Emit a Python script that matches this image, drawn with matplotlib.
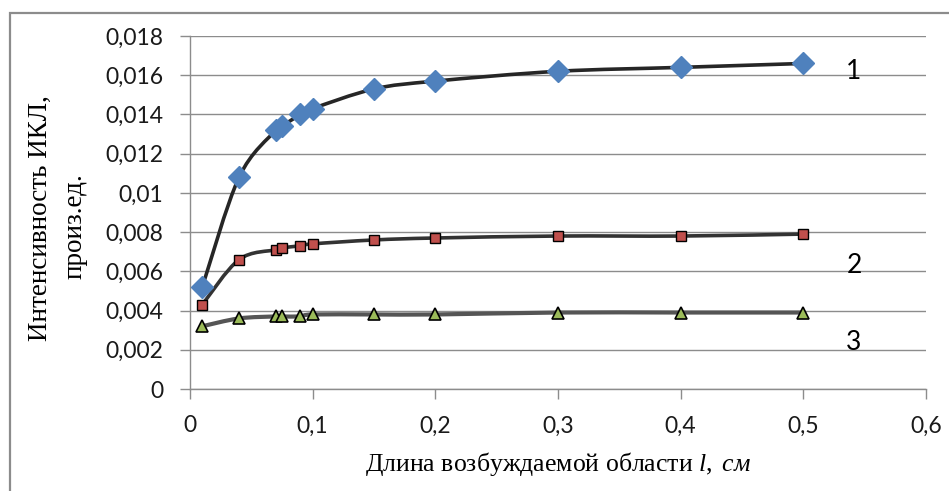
import matplotlib
matplotlib.use("Agg")
import matplotlib.pyplot as plt
from matplotlib.path import Path
from matplotlib.patches import PathPatch, Rectangle
from matplotlib.ticker import FuncFormatter

plt.rcParams["mathtext.fontset"] = "custom"
plt.rcParams["mathtext.rm"] = "Liberation Serif"
plt.rcParams["mathtext.it"] = "Liberation Serif:italic"

x = [0.01, 0.04, 0.07, 0.075, 0.09, 0.1, 0.15, 0.2, 0.3, 0.4, 0.5]
s1 = [0.0052, 0.0108, 0.0132, 0.0134, 0.0140, 0.0143, 0.0153, 0.0157, 0.0162, 0.0164, 0.0166]
s2 = [0.0043, 0.0066, 0.0071, 0.0072, 0.0073, 0.0074, 0.0076, 0.0077, 0.0078, 0.0078, 0.0079]
s3 = [0.0032, 0.0036, 0.0037, 0.0037, 0.0037, 0.0038, 0.0038, 0.0038, 0.0039, 0.0039, 0.0039]
labels = ["1", "2", "3"]
label_xy = [(0.535, 0.0162), (0.535, 0.0063), (0.535, 0.00235)]

fig = plt.figure(figsize=(9.49, 4.91), dpi=100)
fig.patches.append(Rectangle((10/949, -0.1), 1.2, 1 - 13/491 + 0.1, transform=fig.transFigure,
                             fill=False, edgecolor="#8c8c8c", linewidth=1.6, zorder=0))
ax = fig.add_axes([190/949, 102/491, 736/949, 353/491])


def smooth(ax, xs, ys, color, lw):
    pts = list(zip(xs, ys))
    n = len(pts)
    verts = [pts[0]]
    codes = [Path.MOVETO]
    for i in range(n - 1):
        p0 = pts[i - 1] if i > 0 else pts[i]
        p1 = pts[i]
        p2 = pts[i + 1]
        p3 = pts[i + 2] if i + 2 < n else pts[i + 1]
        c1 = (p1[0] + (p2[0] - p0[0]) / 6, p1[1] + (p2[1] - p0[1]) / 6)
        c2 = (p2[0] - (p3[0] - p1[0]) / 6, p2[1] - (p3[1] - p1[1]) / 6)
        verts += [c1, c2, p2]
        codes += [Path.CURVE4] * 3
    ax.add_patch(PathPatch(Path(verts, codes), fill=False, edgecolor=color, linewidth=lw,
                           capstyle="round", joinstyle="round", zorder=3))


smooth(ax, x, s1, "#262626", 2.6)
smooth(ax, x, s2, "#333333", 2.6)
smooth(ax, x, s3, "#555555", 3.0)
ax.plot(x, s1, linestyle="none", marker="D", markersize=11, color="#4F81BD",
        markeredgecolor="#4F81BD", zorder=4)
ax.plot(x, s2, linestyle="none", marker="s", markersize=6.5, color="#C0504D",
        markeredgecolor="black", markeredgewidth=1.0, zorder=4)
ax.plot(x, s3, linestyle="none", marker="^", markersize=9, color="#9BBB59",
        markeredgecolor="black", markeredgewidth=1.2, zorder=4)

for t, (tx, ty) in zip(labels, label_xy):
    ax.text(tx, ty, t, fontsize=19, family="Lato", va="center", ha="left", color="black")

ax.set_xlim(0, 0.6)
ax.set_ylim(0, 0.018)
ax.set_xticks([0, 0.1, 0.2, 0.3, 0.4, 0.5, 0.6])
ax.set_yticks([i * 0.002 for i in range(10)])
fmt = FuncFormatter(lambda v, p: ("%g" % round(v, 4)).replace(".", ","))
ax.xaxis.set_major_formatter(fmt)
ax.yaxis.set_major_formatter(fmt)
ax.grid(axis="y", color="#8c8c8c", linewidth=1.0)
ax.set_axisbelow(True)
for sp in ["top", "right"]:
    ax.spines[sp].set_visible(False)
for sp in ["left", "bottom"]:
    ax.spines[sp].set_color("#8c8c8c")
    ax.spines[sp].set_linewidth(1.0)
ax.tick_params(axis="both", color="#8c8c8c", length=7, width=1.0, labelsize=16.5,
               labelcolor="#1a1a1a")
ax.tick_params(axis="y", pad=12)
ax.tick_params(axis="x", pad=12)
for lab in ax.get_xticklabels() + ax.get_yticklabels():
    lab.set_family("Lato")

ax.set_xlabel("Длина возбуждаемой области $\\it{l,\\ см}$", family="Liberation Serif",
              fontsize=18.5, labelpad=10)
fig.text(40/949, 1 - 218/491, "Интенсивность ИКЛ,", rotation=90, family="Liberation Serif",
         fontsize=19.5, ha="center", va="center")
fig.text(75/949, 1 - 226/491, "произ.ед.", rotation=90, family="Liberation Serif",
         fontsize=19.5, ha="center", va="center")

fig.savefig("out.png", dpi=100)
